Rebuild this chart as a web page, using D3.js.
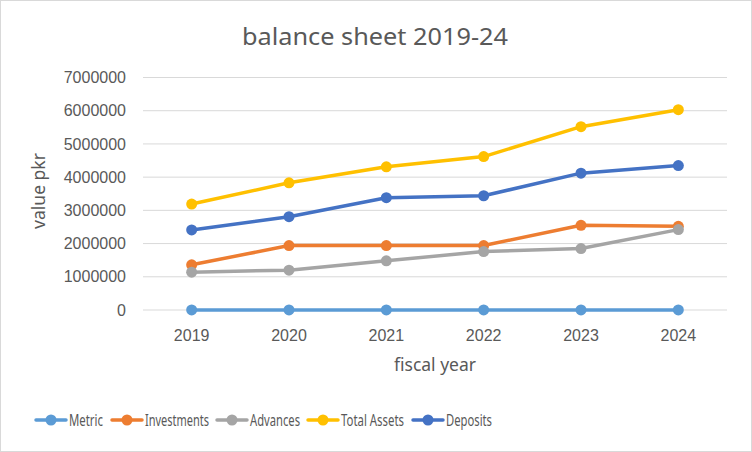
<!DOCTYPE html>
<html>
<head>
<meta charset="utf-8">
<script src="https://cdn.jsdelivr.net/npm/d3@7"></script>
<style>
  body { margin: 0; background: #fff; }
  svg { display: block; font-family: "Noto Sans", "Open Sans", sans-serif; }
</style>
</head>
<body>
<div id="chart"></div>
<script>
// data
const years = ["2019", "2020", "2021", "2022", "2023", "2024"];
const metric = [2019, 2020, 2021, 2022, 2023, 2024];
const investments = [1360000, 1940000, 1940000, 1940000, 2550000, 2520000];
const advances = [1140000, 1200000, 1480000, 1760000, 1850000, 2420000];
const totalAssets = [3190000, 3830000, 4310000, 4620000, 5520000, 6030000];
const deposits = [2410000, 2810000, 3380000, 3440000, 4120000, 4350000];
const yTicks = [0, 1000000, 2000000, 3000000, 4000000, 5000000, 6000000, 7000000];

const series = [
  {name: "Metric", values: metric, color: "#5B9BD5"},
  {name: "Investments", values: investments, color: "#ED7D31"},
  {name: "Advances", values: advances, color: "#A5A5A5"},
  {name: "Total Assets", values: totalAssets, color: "#FFC000"},
  {name: "Deposits", values: deposits, color: "#4472C4"},
];

const width = 752, height = 452;
const margin = {left: 143, right: 25, top: 77.5, bottom: 142};

const svg = d3.select("#chart").append("svg")
  .attr("width", width)
  .attr("height", height);

// outer border
svg.append("rect")
  .attr("x", 0.5).attr("y", 0.5)
  .attr("width", width - 1).attr("height", height - 1)
  .attr("fill", "#fff")
  .attr("stroke", "#d9d9d9");

const x = d3.scaleBand().domain(years).range([margin.left, width - margin.right]);
const y = d3.scaleLinear().domain([0, 7000000]).range([height - margin.bottom, margin.top]);

// gridlines
svg.append("g").attr("class", "grid")
  .selectAll("line")
  .data(yTicks)
  .join("line")
  .attr("x1", margin.left)
  .attr("x2", width - margin.right)
  .attr("y1", d => y(d))
  .attr("y2", d => y(d))
  .attr("stroke", "#d9d9d9")
  .attr("stroke-width", 1);

// y axis labels
const yAxis = svg.append("g")
  .attr("transform", `translate(${margin.left - 17},0)`)
  .call(d3.axisLeft(y).tickValues(yTicks).tickFormat(d3.format("d")).tickSize(0).tickPadding(0));
yAxis.select(".domain").remove();
yAxis.selectAll("text").attr("fill", "#595959").style("font-size", "16px").style("font-family", null);

// x axis labels
const xAxis = svg.append("g")
  .attr("transform", `translate(0,${height - margin.bottom + 20})`)
  .call(d3.axisBottom(x).tickSize(0).tickPadding(0));
xAxis.select(".domain").remove();
xAxis.selectAll("text").attr("fill", "#595959").style("font-size", "16px").style("font-family", null);

// title
svg.append("text")
  .attr("x", 375)
  .attr("y", 45)
  .attr("text-anchor", "middle")
  .attr("fill", "#595959")
  .style("font-size", "24px")
  .attr("textLength", 266)
  .attr("lengthAdjust", "spacingAndGlyphs")
  .text("balance sheet 2019-24");

// axis titles
svg.append("text")
  .attr("x", (margin.left + width - margin.right) / 2)
  .attr("y", 371)
  .attr("text-anchor", "middle")
  .attr("fill", "#595959")
  .style("font-size", "17.5px")
  .text("fiscal year");

svg.append("text")
  .attr("transform", `translate(45,191) rotate(-90)`)
  .attr("text-anchor", "middle")
  .attr("fill", "#595959")
  .style("font-size", "17.5px")
  .text("value pkr");

// lines + markers
const line = d3.line()
  .x((d, i) => x(years[i]) + x.bandwidth() / 2)
  .y(d => y(d));

const gSeries = svg.append("g").attr("class", "series")
  .selectAll("g")
  .data(series)
  .join("g");

gSeries.append("path")
  .attr("d", d => line(d.values))
  .attr("fill", "none")
  .attr("stroke", d => d.color)
  .attr("stroke-width", 3.5)
  .attr("stroke-linejoin", "round")
  .attr("stroke-linecap", "round");

gSeries.selectAll("circle")
  .data(d => d.values.map((v, i) => ({v, i, color: d.color})))
  .join("circle")
  .attr("cx", d => x(years[d.i]) + x.bandwidth() / 2)
  .attr("cy", d => y(d.v))
  .attr("r", 5.5)
  .attr("fill", d => d.color);

// legend (text in the reference is condensed, so squeeze it to measured widths)
const legendX = [36, 112, 217, 308, 413];
const legendTextW = [34, 64, 50, 63, 46];
const legend = svg.append("g").attr("class", "legend")
  .selectAll("g")
  .data(series)
  .join("g")
  .attr("transform", (d, i) => `translate(${legendX[i]},420)`);

legend.append("line")
  .attr("x1", 0).attr("x2", 30)
  .attr("stroke", d => d.color)
  .attr("stroke-width", 3.5)
  .attr("stroke-linecap", "round");

legend.append("circle")
  .attr("cx", 15)
  .attr("r", 5.5)
  .attr("fill", d => d.color);

legend.append("text")
  .attr("x", 33)
  .attr("dy", "0.36em")
  .attr("fill", "#595959")
  .style("font-size", "15.5px")
  .attr("textLength", (d, i) => legendTextW[i])
  .attr("lengthAdjust", "spacingAndGlyphs")
  .text(d => d.name);
</script>
</body>
</html>
